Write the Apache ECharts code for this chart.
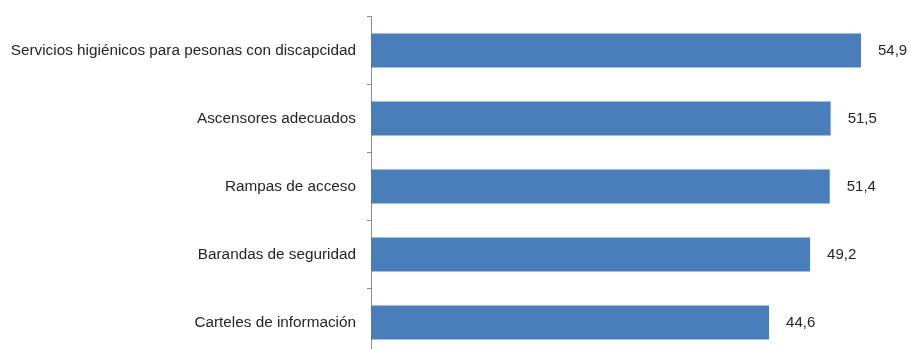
<!DOCTYPE html>
<html>
<head>
<meta charset="utf-8">
<script src="https://cdn.jsdelivr.net/npm/echarts@6/dist/echarts.min.js"></script>
<style>
  html, body { margin: 0; padding: 0; background: #ffffff; }
  #chart { width: 911px; height: 349px; }
</style>
</head>
<body>
<div id="chart"></div>
<script>
// Accessibility features in establishments (%)
const categories = [
  'Servicios higiénicos para pesonas con discapcidad',
  'Ascensores adecuados',
  'Rampas de acceso',
  'Barandas de seguridad',
  'Carteles de información'
];
const values = [54.9, 51.5, 51.4, 49.2, 44.6];

const chart = echarts.init(document.getElementById('chart'), null, { renderer: 'canvas' });

const fontFamily = '"Liberation Sans", Arial, sans-serif';

chart.setOption({
  animation: false,
  backgroundColor: '#ffffff',
  grid: {
    left: 371,
    top: 16.5,
    width: 535.5,
    height: 340,
    containLabel: false,
    outerBoundsMode: 'none'
  },
  xAxis: {
    type: 'value',
    min: 0,
    max: 60,
    show: false
  },
  yAxis: {
    type: 'category',
    data: categories,
    inverse: true,
    axisLine: { show: true, lineStyle: { color: '#8c8c8c', width: 1 } },
    axisTick: { show: true, length: 4, lineStyle: { color: '#8c8c8c' } },
    axisLabel: {
      color: '#262626',
      fontSize: 15.3,
      fontFamily: fontFamily,
      margin: 15
    },
    splitLine: { show: false }
  },
  series: [{
    type: 'bar',
    data: values,
    barWidth: 34,
    itemStyle: { color: '#4a7ebb' },
    label: {
      show: true,
      position: 'right',
      distance: 17,
      color: '#262626',
      fontSize: 15,
      fontFamily: fontFamily,
      formatter: p => p.value.toFixed(1).replace('.', ',')
    }
  }]
});
</script>
</body>
</html>
